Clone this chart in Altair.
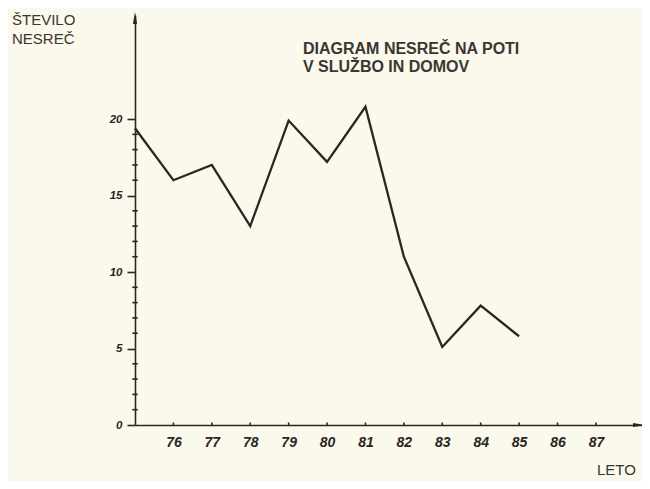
import altair as alt
import pandas as pd

# ---- data ----
years = [75, 76, 77, 78, 79, 80, 81, 82, 83, 84, 85]
accidents = [19.4, 16.0, 17.0, 13.0, 19.9, 17.2, 20.8, 11.0, 5.1, 7.8, 5.8]
x_ticks = [76, 77, 78, 79, 80, 81, 82, 83, 84, 85, 86, 87]
y_major = [0, 5, 10, 15, 20]
y_minor = [i for i in range(1, 20) if i % 5]
y_title_lines = ["ŠTEVILO", "NESREČ"]
title_lines = ["DIAGRAM NESREČ NA POTI", "V SLUŽBO IN DOMOV"]
x_title = "LETO"

X_MIN, X_MAX = 75, 88.2
Y_MIN, Y_MAX = 0, 26.8

INK = "#2b2622"
BG = "#fbf8ec"
HAND = "Liberation Sans"

xs = alt.Scale(domain=[X_MIN, X_MAX], nice=False, zero=False)
ys = alt.Scale(domain=[Y_MIN, Y_MAX], nice=False, zero=False)

x_axis = alt.Axis(
    values=x_ticks, ticks=False, grid=False, title=None,
    domainColor=INK, domainWidth=1.6,
    labelFont=HAND, labelFontSize=14, labelFontStyle="italic", labelFontWeight="bold",
    labelColor=INK, labelPadding=10, labelFlush=False)
y_axis = alt.Axis(
    values=y_major, grid=False, title=None, tickSize=8, tickWidth=1.6, tickColor=INK,
    domainColor=INK, domainWidth=1.6,
    labelFont=HAND, labelFontSize=11.5, labelFontStyle="italic", labelFontWeight="bold",
    labelColor=INK, labelPadding=5)

X = alt.X("year:Q", scale=xs, axis=x_axis)
Y = alt.Y("n:Q", scale=ys, axis=y_axis)

line_df = pd.DataFrame({"year": years, "n": accidents})
minor_df = pd.DataFrame({"year": [X_MIN] * len(y_minor), "n": y_minor})
xt_df = pd.DataFrame({"year": x_ticks, "n": [0] * len(x_ticks)})
one = pd.DataFrame({"k": [0]})

line = alt.Chart(line_df).mark_line(color=INK, strokeWidth=2.3, strokeJoin="miter").encode(x=X, y=Y)

minor = alt.Chart(minor_df).mark_point(
    shape="M-1,0L1,0", filled=False, stroke=INK, strokeWidth=1.6, opacity=1, size=30
).encode(x=X, y=Y)

xt = alt.Chart(xt_df).mark_point(
    shape="M0,-1L0,0.2", filled=False, stroke=INK, strokeWidth=1.6, opacity=1, size=25
).encode(x=X, y=Y)

arrow_up = alt.Chart(pd.DataFrame({"year": [X_MIN], "n": [Y_MAX]})).mark_point(
    shape="M0,-1L-0.35,1L0.35,1Z", filled=True, color=INK, opacity=1, size=144, yOffset=3
).encode(x=X, y=Y)

arrow_right = alt.Chart(pd.DataFrame({"year": [X_MAX], "n": [Y_MIN]})).mark_point(
    shape="M1,0L-1,-0.35L-1,0.35Z", filled=True, color=INK, opacity=1, size=144, xOffset=-3
).encode(x=X, y=Y)

ytitle = alt.Chart(one).mark_text(
    text=y_title_lines, align="left", baseline="alphabetic", font=HAND, fontSize=15,
    lineHeight=18.5, color="#3a3632"
).encode(x=alt.value(-123), y=alt.value(10))

title = alt.Chart(one).mark_text(
    text=title_lines, align="left", baseline="alphabetic", font=HAND, fontSize=16,
    fontWeight="bold", lineHeight=17.5, color="#3a3632"
).encode(x=alt.value(168), y=alt.value(39))

xtitle = alt.Chart(one).mark_text(
    text=x_title, align="left", baseline="alphabetic", font=HAND, fontSize=15, color="#3a3632"
).encode(x=alt.value(462), y=alt.value(460))

chart = alt.layer(line, minor, xt, arrow_up, arrow_right, ytitle, title, xtitle).properties(
    width=507, height=410,
    padding={"left": 127, "top": 7, "right": 0, "bottom": 56},
    autosize=alt.AutoSizeParams(type="none"),
    background=BG,
).configure_view(stroke=None, clip=False)

chart.save("out.html", embed_options={"renderer": "svg", "actions": False})
